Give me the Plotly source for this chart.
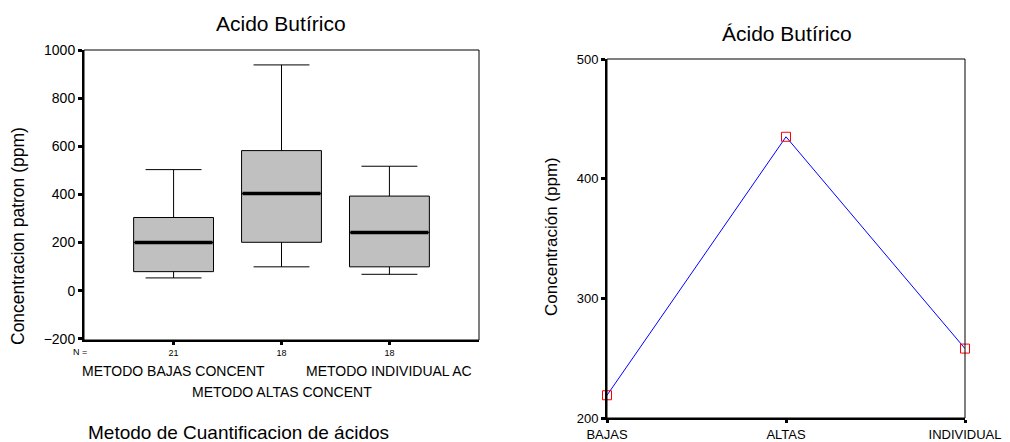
import plotly.graph_objects as go

# ---- data: left boxplot ----
box_cats = ["METODO BAJAS CONCENT", "METODO ALTAS CONCENT", "METODO INDIVIDUAL AC"]
box_n = ["21", "18", "18"]
box_lower = [53, 99, 68]
box_q1 = [79, 201, 99]
box_median = [200, 404, 242]
box_q3 = [304, 582, 393]
box_upper = [503, 938, 517]
y1_ticks = [-200, 0, 200, 400, 600, 800, 1000]

# ---- data: right line chart ----
line_cats = ["BAJAS", "ALTAS", "INDIVIDUAL"]
line_vals = [219, 435, 258]
y2_ticks = [200, 300, 400, 500]

# page body has an 8px margin: the figure starts at (8, 8) in the window
OFF = 8
FW, FH = 1010 - OFF, 442 - OFF
FONT = "Liberation Sans, Arial, sans-serif"


def fx(x):
    return (x - OFF) / FW


def fy(y):
    return 1 - (y - OFF) / FH


x1_dom = [fx(84), fx(479)]
y1_dom = [fy(340), fy(50)]
x2_dom = [fx(607), fx(965)]
y2_dom = [fy(418), fy(59)]
x1_range = [-0.83, 2.83]
box_w = 0.74

pos = list(range(len(box_cats)))

fig = go.Figure()
fig.add_trace(go.Box(
    x=pos, q1=box_q1, median=box_median, q3=box_q3,
    lowerfence=box_lower, upperfence=box_upper,
    width=box_w, whiskerwidth=0.7,
    fillcolor="#c0c0c0", line=dict(color="black", width=1),
    boxpoints=False, hoverinfo="skip", showlegend=False,
    xaxis="x", yaxis="y",
))
# thick median line (plotly's line-ew symbol spans 1.4 x its size)
px_per_unit = (479 - 84) / (x1_range[1] - x1_range[0])
fig.add_trace(go.Scatter(
    x=pos, y=box_median, mode="markers",
    marker=dict(symbol="line-ew", size=(box_w * px_per_unit - 2) / 1.4,
                line=dict(color="black", width=3.5)),
    showlegend=False, hoverinfo="skip", xaxis="x", yaxis="y",
))

fig.add_trace(go.Scatter(
    x=line_cats, y=line_vals, mode="lines+markers",
    line=dict(color="#0000ff", width=1),
    marker=dict(symbol="square-open", size=9, color="#ff0000",
                line=dict(color="#ff0000", width=1)),
    cliponaxis=False, showlegend=False, xaxis="x2", yaxis="y2",
))

ax_common = dict(showgrid=False, zeroline=False, showline=True, automargin=False,
                 linecolor="black", linewidth=2, ticks="outside", tickcolor="black")


def ann(text, x, y, size, xref="paper", angle=0):
    return dict(text=text, x=x, y=y, xref=xref, yref="paper", showarrow=False,
                textangle=angle, font=dict(family=FONT, size=size, color="black"),
                xanchor="center", yanchor="middle")


annotations = [ann("N =", fx(80), fy(352), 9)]
rows = [371, 392, 371]
for i, c in enumerate(box_cats):
    annotations.append(ann(c, pos[i], fy(rows[i]), 14, xref="x"))
annotations += [
    ann("Metodo de Cuantificacion de ácidos", fx(238), fy(432), 19),
    ann("Acido Butírico", fx(281), fy(23), 21),
    ann("Concentracion patron (ppm)", fx(18), fy(236), 17.5, angle=-90),
    ann("Ácido Butírico", fx(787), fy(34), 21),
    ann("Concentración (ppm)", fx(551), fy(237), 17, angle=-90),
]

shapes = [
    dict(type="rect", xref="x domain", yref="y domain", x0=0, x1=1, y0=0, y1=1,
         line=dict(color="black", width=1), layer="above"),
    dict(type="rect", xref="x2 domain", yref="y2 domain", x0=0, x1=1, y0=0, y1=1,
         line=dict(color="black", width=1), layer="above"),
]

fig.update_layout(
    width=FW, height=FH, margin=dict(l=0, r=0, t=0, b=0, autoexpand=False),
    paper_bgcolor="white", plot_bgcolor="white",
    font=dict(family=FONT, color="black"),
    xaxis=dict(domain=x1_dom, range=x1_range, tickvals=pos, ticktext=box_n,
               anchor="y", ticklen=3, tickwidth=3,
               tickfont=dict(family=FONT, size=9, color="black"), **ax_common),
    yaxis=dict(domain=y1_dom, range=[-205, 1000], tickvals=y1_ticks, anchor="x",
               ticklen=4, tickwidth=3,
               tickfont=dict(family=FONT, size=14, color="black"), **ax_common),
    xaxis2=dict(domain=x2_dom, range=[0, 2], type="category", anchor="y2",
                ticklen=3, tickwidth=3,
                tickfont=dict(family=FONT, size=13, color="black"), **ax_common),
    yaxis2=dict(domain=y2_dom, range=[200, 500], tickvals=y2_ticks, anchor="x2",
                ticklen=4, tickwidth=3,
                tickfont=dict(family=FONT, size=13, color="black"), **ax_common),
    annotations=annotations, shapes=shapes,
)

fig.write_html("out.html")
